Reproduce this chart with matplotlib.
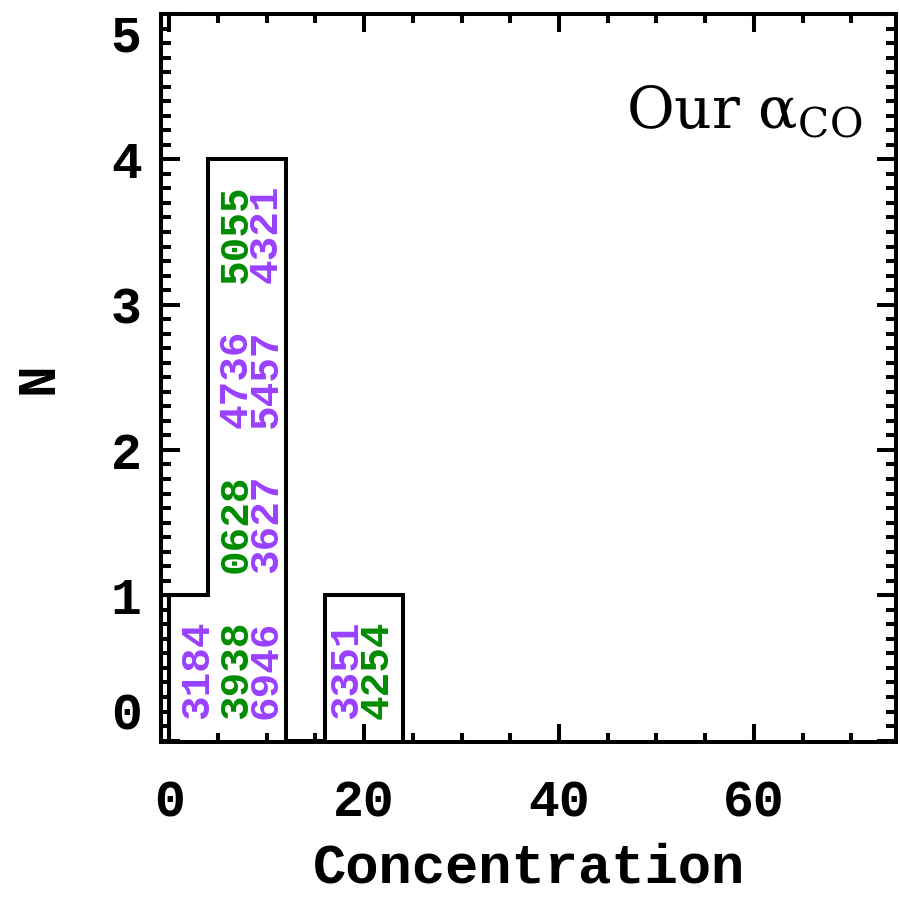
import matplotlib
matplotlib.use("Agg")
import matplotlib.pyplot as plt
from matplotlib.ticker import MultipleLocator

# Histogram of concentration (bin width 4)
bin_edges = [0, 4, 8, 12, 16, 20, 24]
counts = [1, 4, 4, 0, 1, 1]

# Galaxy IDs stacked inside each bin (bottom to top), with their colour class
bin_galaxies = [
    [("3184", "purple")],
    [("3938", "green"), ("0628", "green"), ("4736", "purple"), ("5055", "green")],
    [("6946", "purple"), ("3627", "purple"), ("5457", "purple"), ("4321", "purple")],
    [],
    [("3351", "purple")],
    [("4254", "green")],
]
label_x = [2.8, 6.8, 9.9, None, 18.1, 21.3]

x_ticks = [0, 20, 40, 60]
y_ticks = [0, 1, 2, 3, 4, 5]

colors = {"purple": "#9940FF", "green": "#008C00"}
mono = "Liberation Mono"
lw = 2.9

plt.rcParams["mathtext.fontset"] = "dejavuserif"

fig = plt.figure(figsize=(9.0, 8.99), dpi=100)
ax = fig.add_axes([0.179, 0.1746, 0.8166, 0.8098])

ax.stairs(counts, bin_edges, baseline=0, fill=False, color="black",
          linewidth=lw, zorder=3)

for xs, gals in zip(label_x, bin_galaxies):
    for k, (gid, cls) in enumerate(gals):
        ax.text(xs, k + 0.15, gid, rotation=90, ha="center", va="bottom",
                color=colors[cls], fontsize=29.5, fontfamily=mono,
                fontweight="bold", zorder=4)

ax.set_xlim(-0.85, 74.6)
ax.set_ylim(-0.01, 5.0)
ax.set_xticks(x_ticks)
ax.set_yticks(y_ticks)
ax.xaxis.set_minor_locator(MultipleLocator(5))
ax.yaxis.set_minor_locator(MultipleLocator(0.1))

ax.tick_params(which="both", direction="in", top=True, right=True, width=lw)
ax.tick_params(which="major", axis="x", length=13, pad=26)
ax.tick_params(which="minor", axis="x", length=6.5)
ax.tick_params(which="major", axis="y", length=14, pad=14)
ax.tick_params(which="minor", axis="y", length=7)
for s in ax.spines.values():
    s.set_linewidth(lw)

for lab in ax.get_xticklabels() + ax.get_yticklabels():
    lab.set_fontfamily(mono)
    lab.set_fontweight("bold")
    lab.set_fontsize(37)

# keep the end labels of the y axis inside the frame height
ylabs = ax.get_yticklabels()
ylabs[0].set_verticalalignment("bottom")
ylabs[-1].set_verticalalignment("top")

ax.set_xlabel("Concentration", fontfamily=mono, fontweight="bold",
              fontsize=40, labelpad=11)
ax.set_ylabel("N", fontfamily=mono, fontweight="bold", fontsize=38,
              labelpad=34)

ax.text(0.954, 0.843, r"Our $\mathrm{\alpha}_{\mathrm{CO}}$",
        transform=ax.transAxes, ha="right", va="baseline", fontsize=42,
        fontfamily="DejaVu Serif")

fig.savefig("out.png", dpi=100)
